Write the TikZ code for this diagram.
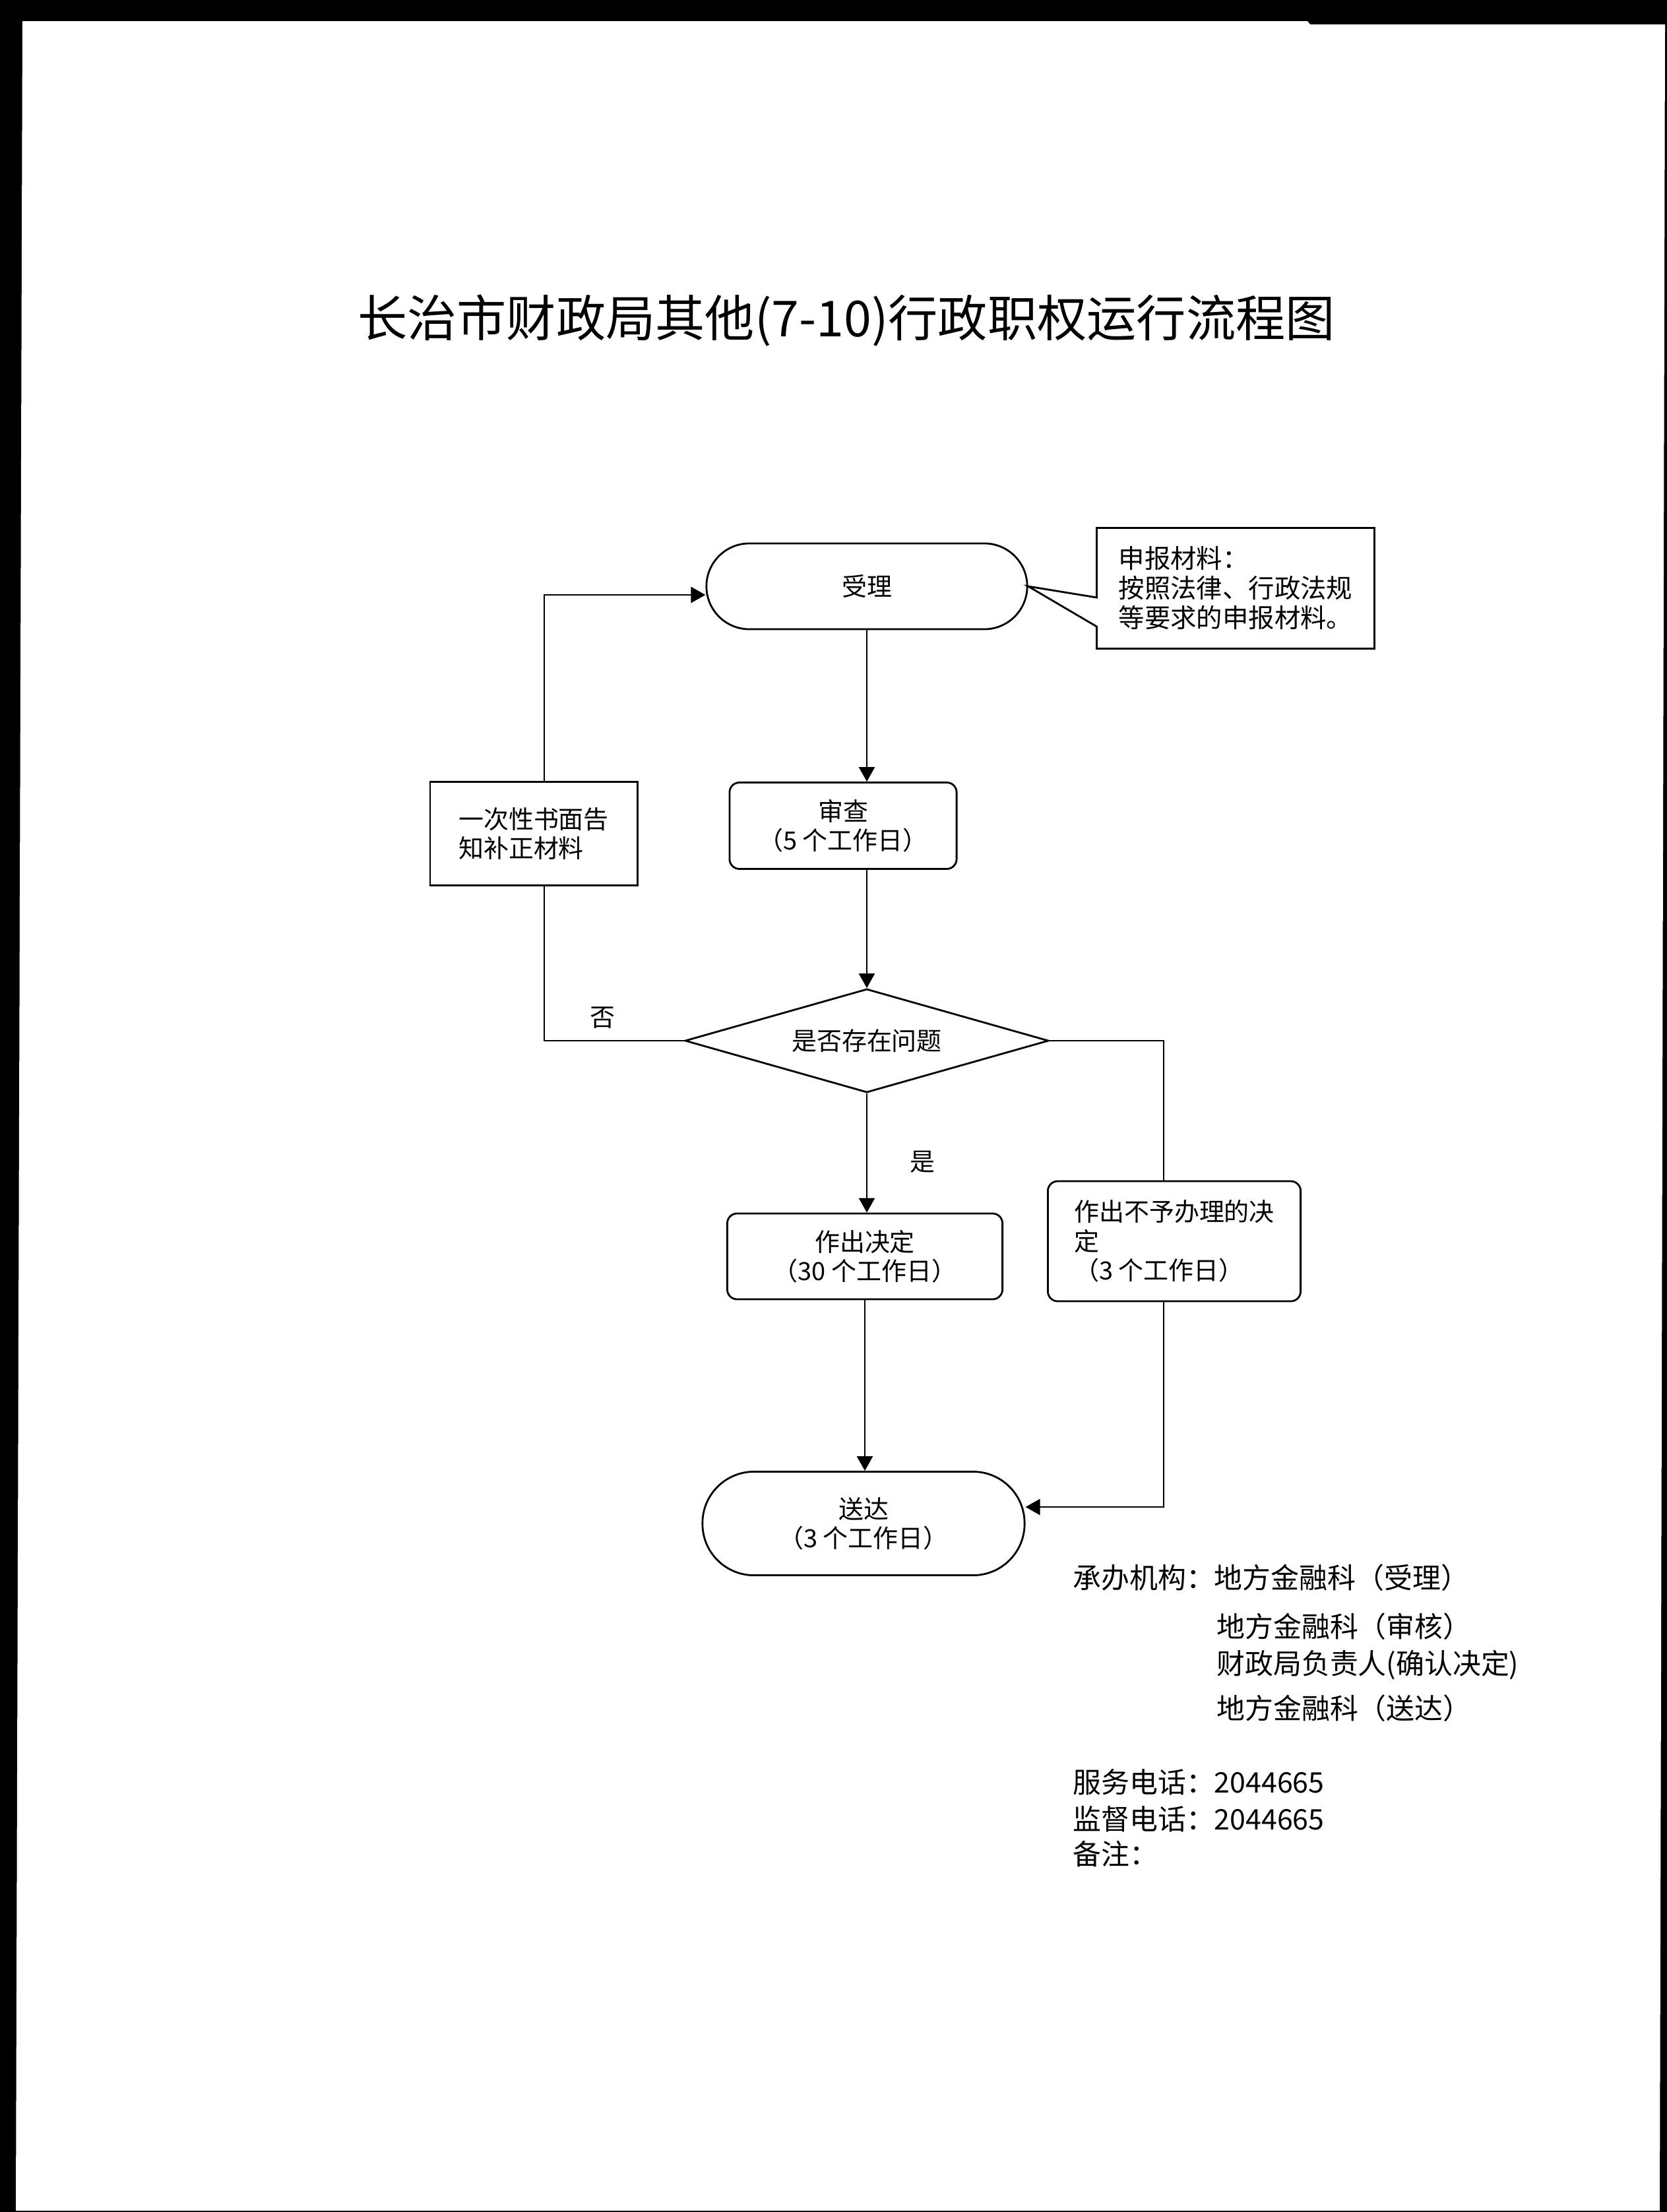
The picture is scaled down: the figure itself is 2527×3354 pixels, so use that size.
\documentclass[tikz,border=0pt]{standalone}
\usepackage{fontspec}
\setmainfont{Noto Sans CJK SC}
\usetikzlibrary{shapes.geometric,arrows.meta}

\tikzset{
  boxtext/.style={font=\fontsize{10.8pt}{12.6pt}\selectfont},
  procbox/.style={draw, rounded corners=0.15cm, align=center, inner sep=0pt, boxtext},
  plainbox/.style={draw, align=left, inner sep=0pt, boxtext},
  termbox/.style={draw, align=center, inner sep=0pt, boxtext},
  footline/.style={anchor=west, inner sep=0pt, font=\fontsize{12.2pt}{14pt}\selectfont}
}

\begin{document}
\begin{tikzpicture}[x=0.01cm, y=-0.01cm, line width=0.8pt,
  >={Triangle[length=0.22cm,width=0.24cm]}]
  \useasboundingbox (0,0) rectangle (2527,3354);
  % scanned page edges
  \fill[black] (0,0) rectangle (2527,3354);
  \fill[white] (34,32) -- (1982,32) -- (1986,37) -- (2524,37) -- (2516,3352) -- (24,3352) -- cycle;
  % title
  \node[font=\fontsize{21.4pt}{25pt}\selectfont] (title) at (1283,486) {长治市财政局其他(7-10)行政职权运行流程图};
  % main steps
  \node[termbox, minimum width=4.86cm, minimum height=1.3cm, rounded corners=0.65cm] (shouli) at (1314,889) {受理};
  \node[align=left, minimum width=4.18cm, minimum height=1.8cm, inner sep=0pt,
        font=\fontsize{11.2pt}{12.8pt}\selectfont] (shenbao) at (1873,892) {申报材料：\\按照法律、行政法规\\等要求的申报材料。};
  \node[procbox, minimum width=3.44cm, minimum height=1.31cm] (shencha) at (1278,1252) {审查\\（5 个工作日）};
  \node[plainbox, minimum width=3.14cm, minimum height=1.57cm] (buzheng) at (809,1264) {一次性书面告\\知补正材料};
  \node[draw, diamond, aspect=3.5, minimum width=5.51cm, minimum height=1.57cm, inner sep=0pt, boxtext] (panduan) at (1314,1578) {是否存在问题};
  \node[procbox, minimum width=4.17cm, minimum height=1.3cm] (jueding) at (1311,1905) {作出决定\\（30 个工作日）};
  \node[procbox, align=left, minimum width=3.83cm, minimum height=1.82cm] (buyu) at (1780,1882) {作出不予办理的决\\定\\（3 个工作日）};
  \node[termbox, minimum width=4.88cm, minimum height=1.57cm, rounded corners=0.78cm] (songda) at (1309,2310) {送达\\（3 个工作日）};
  % callout outline
  \draw (shenbao.north west) -- (shenbao.north east) -- (shenbao.south east) -- (shenbao.south west)
    -- ([yshift=-0.58cm]shenbao.west) -- (shouli.east) -- ([yshift=-0.14cm]shenbao.west) -- cycle;
  % trunk
  \draw[->] (shouli.south) -- (shouli.south |- shencha.north);
  \draw[->] (shouli.south |- shencha.south) -- (panduan.north);
  \draw[->] (panduan.south) -- (panduan.south |- jueding.north);
  \draw[->] (jueding.south) -- (jueding.south |- songda.north);
  % no: back to start
  \draw (panduan.west) -| ([xshift=0.16cm]buzheng.south);
  \draw[->] ([xshift=0.16cm]buzheng.north) |- ([yshift=-0.13cm]shouli.west);
  % refusal branch
  \draw (panduan.east) -| ([xshift=-0.16cm]buyu.north);
  \draw[->] ([xshift=-0.16cm]buyu.south) |- ([yshift=0.25cm]songda.east);
  % branch labels
  \node[boxtext] (fou) at (913,1543) {否};
  \node[boxtext] (shi) at (1398,1762) {是};
  % footer
  \node[footline] (chengban) at (1625,2392) {承办机构：地方金融科（受理）};
  \node[footline] (shenhe) at (1843,2466) {地方金融科（审核）};
  \node[footline] (fuze) at (1843,2525) {财政局负责人(确认决定)};
  \node[footline] (songdake) at (1843,2590) {地方金融科（送达）};
  \node[footline] (fuwu) at (1625,2702) {服务电话：2044665};
  \node[footline] (jiandu) at (1625,2758) {监督电话：2044665};
  \node[footline] (beizhu) at (1625,2811) {备注：};
\end{tikzpicture}
\end{document}
